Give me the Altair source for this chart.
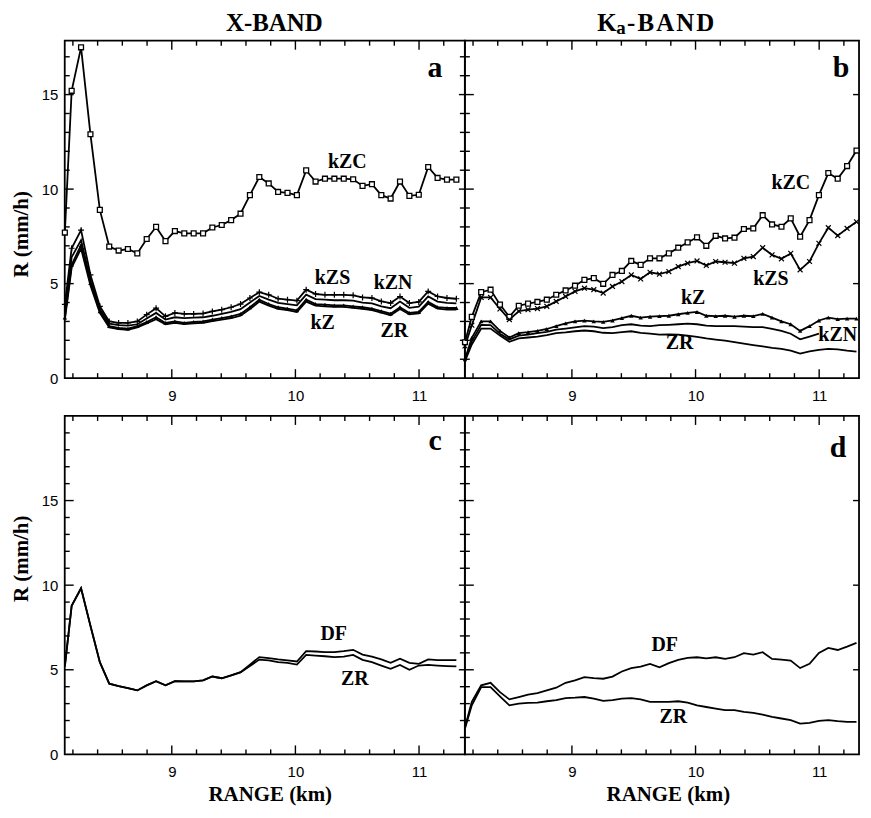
import altair as alt
import pandas as pd

# ---------------- data ----------------
RANGE_KM = [8.135, 8.190, 8.266, 8.342, 8.418, 8.494, 8.570, 8.645, 8.721, 8.797,
            8.873, 8.949, 9.025, 9.101, 9.177, 9.253, 9.328, 9.404, 9.480, 9.556,
            9.632, 9.708, 9.784, 9.860, 9.936, 10.012, 10.087, 10.163, 10.239, 10.315,
            10.391, 10.467, 10.543, 10.619, 10.695, 10.770, 10.846, 10.922, 10.998, 11.074,
            11.150, 11.226, 11.302]

# panel a : X-band
A_KZC = [7.7, 15.2, 17.5, 12.9, 8.9, 6.96, 6.75, 6.83, 6.6, 7.36, 8.0, 7.25, 7.78, 7.66, 7.66,
         7.66, 7.97, 8.1, 8.36, 8.7, 9.68, 10.64, 10.3, 9.85, 9.8, 9.68, 10.99, 10.4, 10.55, 10.55,
         10.55, 10.52, 10.17, 10.26, 9.68, 9.5, 10.4, 9.64, 9.7, 11.17, 10.59, 10.5, 10.5]
A_KZS = [3.9, 6.87, 7.83, 5.46, 3.8, 3.0, 2.92, 2.92, 3.0, 3.36, 3.7, 3.27, 3.45, 3.4, 3.4,
         3.42, 3.53, 3.62, 3.75, 3.92, 4.24, 4.55, 4.41, 4.2, 4.15, 4.1, 4.68, 4.45, 4.41, 4.41,
         4.41, 4.38, 4.27, 4.24, 4.06, 3.97, 4.32, 3.97, 4.03, 4.59, 4.32, 4.24, 4.2]
A_KZN = [3.6, 6.4, 7.3, 5.2, 3.65, 2.88, 2.8, 2.78, 2.85, 3.15, 3.45, 3.1, 3.22, 3.18, 3.2,
         3.22, 3.3, 3.4, 3.5, 3.65, 4.0, 4.35, 4.15, 3.98, 3.92, 3.85, 4.42, 4.18, 4.15, 4.12,
         4.12, 4.1, 4.0, 3.95, 3.8, 3.7, 4.05, 3.72, 3.78, 4.32, 4.05, 3.98, 3.95]
A_KZ = [3.2, 6.0, 7.04, 5.03, 3.53, 2.75, 2.66, 2.62, 2.75, 2.97, 3.22, 2.92, 3.0, 2.92, 2.97,
        3.0, 3.1, 3.18, 3.27, 3.4, 3.75, 4.15, 3.92, 3.75, 3.68, 3.59, 4.15, 3.92, 3.89, 3.85,
        3.85, 3.8, 3.75, 3.68, 3.54, 3.41, 3.75, 3.45, 3.5, 4.03, 3.76, 3.71, 3.71]
A_ZR = [3.1, 5.85, 6.85, 4.9, 3.45, 2.68, 2.6, 2.56, 2.68, 2.9, 3.12, 2.85, 2.93, 2.86, 2.9,
        2.93, 3.02, 3.1, 3.18, 3.3, 3.65, 4.05, 3.84, 3.67, 3.6, 3.5, 4.05, 3.84, 3.8, 3.77,
        3.77, 3.72, 3.67, 3.6, 3.46, 3.33, 3.66, 3.37, 3.42, 3.94, 3.68, 3.63, 3.63]

# panel b : Ka-band
B_KZC = [1.9, 3.24, 4.55, 4.68, 3.89, 3.24, 3.83, 3.94, 4.03, 4.15, 4.41, 4.64, 4.89, 5.2, 5.29,
         4.99, 5.46, 5.67, 6.2, 5.99, 6.34, 6.34, 6.6, 6.9, 7.18, 7.45, 7.0, 7.53, 7.39, 7.43,
         7.89, 7.92, 8.62, 8.13, 8.01, 8.45, 7.48, 8.36, 9.68, 10.85, 10.55, 11.22, 12.04]
B_KZS = [1.7, 2.8, 4.27, 4.27, 3.66, 3.1, 3.54, 3.62, 3.68, 3.8, 4.06, 4.32, 4.59, 4.76, 4.68,
         4.5, 4.85, 5.11, 5.46, 5.25, 5.6, 5.5, 5.64, 5.9, 6.08, 6.2, 5.96, 6.17, 6.13, 6.08,
         6.34, 6.43, 6.9, 6.52, 6.31, 6.6, 5.73, 6.17, 7.13, 7.96, 7.54, 7.92, 8.27]
B_KZ = [1.0, 2.13, 3.0, 3.0, 2.5, 2.15, 2.38, 2.43, 2.5, 2.6, 2.75, 2.9, 3.0, 3.04, 3.0,
        2.98, 3.05, 3.18, 3.3, 3.2, 3.25, 3.28, 3.3, 3.38, 3.45, 3.5, 3.3, 3.28, 3.3, 3.25,
        3.3, 3.28, 3.4, 3.2, 3.0, 2.85, 2.5, 2.75, 3.05, 3.2, 3.12, 3.15, 3.15]
B_KZN = [0.95, 1.95, 2.82, 2.8, 2.35, 2.05, 2.25, 2.3, 2.38, 2.45, 2.57, 2.62, 2.68, 2.75, 2.72,
         2.65, 2.7, 2.8, 2.85, 2.78, 2.75, 2.8, 2.82, 2.85, 2.88, 2.85, 2.78, 2.75, 2.75, 2.75,
         2.72, 2.7, 2.7, 2.6, 2.5, 2.35, 2.05, 2.2, 2.35]
B_ZR = [0.9, 1.78, 2.62, 2.62, 2.25, 1.92, 2.1, 2.15, 2.2, 2.28, 2.38, 2.42, 2.48, 2.52, 2.48,
        2.4, 2.38, 2.43, 2.48, 2.4, 2.35, 2.3, 2.32, 2.3, 2.25, 2.18, 2.1, 2.04, 1.98, 1.9,
        1.82, 1.75, 1.68, 1.6, 1.55, 1.45, 1.3, 1.42, 1.5, 1.55, 1.52, 1.45, 1.4]

# panel c : X-band
C_DF = [5.2, 8.78, 9.82, 7.6, 5.45, 4.18, 4.04, 3.92, 3.78, 4.08, 4.33, 4.08, 4.33, 4.31, 4.31,
        4.37, 4.6, 4.5, 4.67, 4.86, 5.3, 5.75, 5.69, 5.61, 5.55, 5.49, 6.1, 6.08, 6.04, 6.04,
        6.1, 6.18, 5.9, 5.78, 5.61, 5.41, 5.65, 5.41, 5.35, 5.61, 5.57, 5.57, 5.57]
C_ZR = [5.2, 8.78, 9.82, 7.6, 5.45, 4.18, 4.04, 3.92, 3.78, 4.08, 4.33, 4.08, 4.33, 4.31, 4.31,
        4.37, 4.6, 4.5, 4.67, 4.84, 5.22, 5.6, 5.55, 5.45, 5.41, 5.31, 5.88, 5.84, 5.8, 5.75,
        5.78, 5.88, 5.59, 5.45, 5.25, 5.06, 5.29, 5.0, 5.25, 5.29, 5.25, 5.22, 5.2]

# panel d : Ka-band
D_DF = [1.6, 3.1, 4.08, 4.23, 3.68, 3.25, 3.39, 3.53, 3.62, 3.78, 3.94, 4.23, 4.37, 4.57, 4.51,
        4.47, 4.6, 4.9, 5.1, 5.19, 5.35, 5.15, 5.39, 5.59, 5.7, 5.74, 5.68, 5.74, 5.64, 5.74,
        5.98, 5.9, 6.04, 5.64, 5.6, 5.54, 5.1, 5.35, 6.0, 6.29, 6.17, 6.37, 6.59]
D_ZR = [1.53, 2.9, 3.98, 3.98, 3.43, 2.9, 3.0, 3.04, 3.06, 3.14, 3.2, 3.33, 3.35, 3.39, 3.29,
        3.16, 3.2, 3.29, 3.33, 3.25, 3.1, 3.1, 3.1, 3.14, 3.06, 2.9, 2.8, 2.7, 2.61, 2.61,
        2.51, 2.45, 2.35, 2.21, 2.12, 2.02, 1.82, 1.86, 1.98, 2.02, 1.96, 1.92, 1.92]

# curve labels (text, km, R)
A_LABELS = [("kZC", 10.42, 11.45), ("kZS", 10.30, 5.29), ("kZN", 10.79, 5.03),
            ("kZ", 10.22, 2.92), ("ZR", 10.80, 2.48)]
B_LABELS = [("kZC", 10.77, 10.32), ("kZS", 10.61, 5.22), ("kZ", 9.98, 4.24),
            ("kZN", 11.15, 2.3), ("ZR", 9.87, 1.87)]
C_LABELS = [("DF", 10.31, 7.12), ("ZR", 10.48, 4.47)]
D_LABELS = [("DF", 9.75, 6.49), ("ZR", 9.82, 2.21)]

# axis ticks
X_LABEL_TICKS = [9, 10, 11]
X_MAJOR = [9, 10, 11]
X_MINOR = [8.2, 8.4, 8.6, 8.8, 9.2, 9.4, 9.6, 9.8, 10.2, 10.4, 10.6, 10.8, 11.2]
Y_LABEL_TICKS = [0, 5, 10, 15]
Y_MAJOR = [5, 10, 15]
Y_MINOR_TOP = [1, 2, 3, 4, 6, 7, 8, 9, 11, 12, 13, 14, 16, 17]
Y_MINOR_BOT = [1, 2, 3, 4, 6, 7, 8, 9, 11, 12, 13, 14, 16, 17, 18, 19]

SERIF = "Liberation Serif"
SANS = "Liberation Sans"
X0 = 8.134
PX_KM = 124.2
WA, WB = 402, 396
HT, HB = 339, 340
YMAX_T, YMAX_B = 17.85, 20.0
LINE_W = 1.8


def series_df(pairs):
    rows = []
    for name, vals in pairs:
        for km, r in zip(RANGE_KM, vals):
            rows.append({"km": km, "R": r, "series": name})
    return pd.DataFrame(rows)


def panel(pairs, markers, W, H, ymax, yminor, labels, letter, letter_xy,
          show_y, ytitle_y, xtitle_x, right_minor, extra=None):
    xs = alt.Scale(domain=[X0, X0 + W / PX_KM], nice=False, zero=False)
    ys = alt.Scale(domain=[0, ymax], nice=False, zero=False)
    if xtitle_x is not None:
        xaxis = alt.Axis(values=X_LABEL_TICKS, format="d", labelPadding=10,
                         title="RANGE (km)", titleX=xtitle_x, titleY=40,
                         titleBaseline="middle")
    else:
        xaxis = alt.Axis(values=X_LABEL_TICKS, format="d", labelPadding=10, title=None)
    X = alt.X("km:Q", scale=xs, axis=xaxis)
    if show_y:
        yaxis = alt.Axis(values=Y_LABEL_TICKS, labelPadding=7, title="R (mm/h)",
                         titleX=-43, titleY=ytitle_y, titleBaseline="middle",
                         titleAlign="center")
        Y = alt.Y("R:Q", scale=ys, axis=yaxis)
    else:
        Y = alt.Y("R:Q", scale=ys, axis=None)

    df = series_df(pairs)
    layers = [alt.Chart(df).mark_line(color="black", strokeWidth=LINE_W).encode(
        x=X, y=Y, detail="series:N")]

    for name, kind in markers:
        base = alt.Chart(df).transform_filter(alt.datum.series == name)
        if kind == "square":
            m = base.mark_square(size=24, color="white", stroke="black",
                                 strokeWidth=1.3, opacity=1)
        elif kind == "triangle":
            m = base.mark_point(shape="triangle-up", filled=True, color="black",
                                size=20, opacity=1)
        elif kind == "plus":
            m = base.mark_point(shape="M-1,0L1,0M0,-1L0,1", filled=False, color="black",
                                size=36, strokeWidth=1.2, opacity=1)
        else:
            m = base.mark_point(shape="M-1,-1L1,1M-1,1L1,-1", filled=False, color="black",
                                size=24, strokeWidth=1.2, opacity=1)
        layers.append(m.encode(x=X, y=Y))

    # inward ticks
    xt_major = pd.DataFrame({"km": X_MAJOR})
    xt_minor = pd.DataFrame({"km": [v for v in X_MINOR if v < X0 + W / PX_KM]})
    yt_major = pd.DataFrame({"R": Y_MAJOR})
    yt_minor = pd.DataFrame({"R": yminor})
    rule = dict(color="black", strokeWidth=1.4)
    for d, L in ((xt_major, 9), (xt_minor, 5)):
        layers.append(alt.Chart(d).mark_rule(**rule).encode(
            x=X, y=alt.value(H), y2=alt.value(H - L)))
        layers.append(alt.Chart(d).mark_rule(**rule).encode(
            x=X, y=alt.value(0), y2=alt.value(L)))
    for d, L in ((yt_major, 9), (yt_minor, 5)):
        layers.append(alt.Chart(d).mark_rule(**rule).encode(
            y=Y, x=alt.value(0), x2=alt.value(L)))
    right_sets = [(yt_major, 6)] + ([(yt_minor, 5)] if right_minor else [])
    for d, L in right_sets:
        layers.append(alt.Chart(d).mark_rule(**rule).encode(
            y=Y, x=alt.value(W), x2=alt.value(W - L)))

    lab = pd.DataFrame({"label": [t for t, _, _ in labels],
                        "km": [k for _, k, _ in labels],
                        "R": [r for _, _, r in labels]})
    layers.append(alt.Chart(lab).mark_text(font=SERIF, fontWeight="bold", fontSize=20,
                                           color="black", baseline="middle").encode(
        x=X, y=Y, text="label:N"))

    let = pd.DataFrame({"t": [letter]})
    layers.append(alt.Chart(let).mark_text(font=SERIF, fontWeight="bold", fontSize=30,
                                           color="black", align="center",
                                           baseline="alphabetic").encode(
        text="t:N", x=alt.value(letter_xy[0]), y=alt.value(letter_xy[1])))
    if extra:
        layers.extend(extra)
    return alt.layer(*layers).properties(width=W, height=H)


def title_text(txt, x, y, size):
    return alt.Chart(pd.DataFrame({"t": [txt]})).mark_text(
        font=SERIF, fontWeight="bold", fontSize=size, color="black",
        align="left", baseline="alphabetic").encode(
        text="t:N", x=alt.value(x), y=alt.value(y))


x_title = [title_text("X-BAND", 162, -9.4, 25)]
ka_title = [title_text("K", 133, -9.4, 25),
            title_text("a", 152, -6.6, 19),
            title_text("-\u200aB\u200aA\u200aN\u200aD", 163, -9.4, 25)]

pa = panel([("kZC", A_KZC), ("kZS", A_KZS), ("kZN", A_KZN), ("kZ", A_KZ), ("ZR", A_ZR)],
           [("kZC", "square"), ("kZS", "plus"), ("kZ", "triangle")],
           WA, HT, YMAX_T, Y_MINOR_TOP, A_LABELS, "a", (372, 36),
           True, 194, None, True, extra=x_title)
pb = panel([("kZC", B_KZC), ("kZS", B_KZS), ("kZ", B_KZ), ("kZN", B_KZN), ("ZR", B_ZR)],
           [("kZC", "square"), ("kZS", "x"), ("kZ", "triangle")],
           WB, HT, YMAX_T, Y_MINOR_TOP, B_LABELS, "b", (378, 36),
           False, None, None, False, extra=ka_title)
pc = panel([("DF", C_DF), ("ZR", C_ZR)], [],
           WA, HB, YMAX_B, Y_MINOR_BOT, C_LABELS, "c", (372, 34),
           True, 143, 206, True)
pd_ = panel([("DF", D_DF), ("ZR", D_ZR)], [],
            WB, HB, YMAX_B, Y_MINOR_BOT, D_LABELS, "d", (375, 41),
            False, None, 204, False)

chart = alt.concat(pa, pb, pc, pd_, columns=2, bounds="flush",
                   spacing=alt.RowColnumber(row=38, column=0)).properties(
    padding={"left": 2, "top": 0, "right": 0, "bottom": 0}
).configure_view(
    stroke="black", strokeWidth=1.8
).configure_axis(
    grid=False, domain=False, ticks=False,
    labelFont=SANS, labelFontSize=15, labelColor="black",
    titleFont=SERIF, titleFontSize=21, titleFontWeight="bold", titleColor="black"
)

chart.save("out.html", embed_options={"renderer": "svg", "actions": False})
